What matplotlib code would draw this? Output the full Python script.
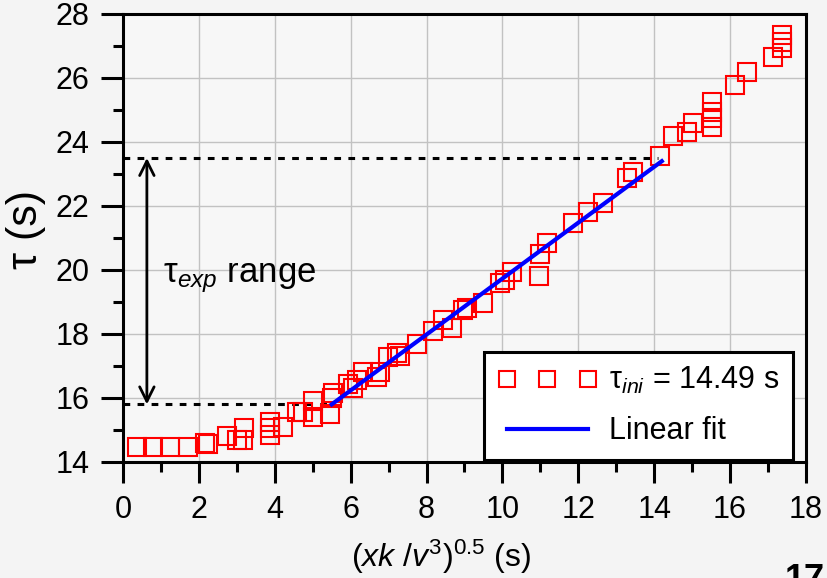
import matplotlib
matplotlib.use("Agg")
import matplotlib.pyplot as plt
from matplotlib.ticker import MultipleLocator

plt.rcParams['font.family'] = ['Liberation Sans', 'DejaVu Sans']
plt.rcParams['mathtext.fontset'] = 'custom'
plt.rcParams['mathtext.rm'] = 'Liberation Sans'
plt.rcParams['mathtext.it'] = 'Liberation Sans:italic'

x_data = [0.37, 0.79, 1.24, 1.71, 2.16, 2.24, 2.74, 3.0, 3.16, 3.2,
          3.87, 3.87, 3.87, 4.22, 4.58, 4.74, 5.0, 5.0, 5.46, 5.5,
          5.54, 5.93, 6.06, 6.17, 6.33, 6.7, 6.77, 6.98, 7.22, 7.3,
          7.75, 8.17, 8.43, 8.67, 8.96, 9.06, 9.49, 9.94, 10.07, 10.25,
          10.97, 10.99, 11.18, 11.86, 12.26, 12.65, 13.28, 13.44, 14.15, 14.5,
          14.86, 15.03, 15.52, 15.52, 15.52, 15.52, 16.13, 16.45, 17.13, 17.37,
          17.37, 17.37]
y_data = [14.47, 14.47, 14.47, 14.47, 14.6, 14.56, 14.8, 14.7, 14.7, 15.05,
          15.25, 15.05, 14.85, 15.1, 15.55, 15.55, 15.9, 15.4, 15.5, 16.0,
          16.15, 16.45, 16.3, 16.55, 16.8, 16.65, 16.8, 17.28, 17.4, 17.3,
          17.7, 18.1, 18.45, 18.2, 18.75, 18.8, 18.97, 19.6, 19.7, 19.94,
          19.82, 20.5, 20.84, 21.47, 21.8, 22.1, 22.87, 23.06, 23.55, 24.2,
          24.3, 24.6, 24.47, 24.75, 24.94, 25.25, 25.78, 26.19, 26.66, 26.94,
          27.13, 27.34]

fit_x = [5.5, 14.2]
fit_y = [15.8, 23.4]

tau_low = 15.8
tau_high = 23.5
low_end = 5.4
high_end = 14.1
arrow_x = 0.63

fig = plt.figure(figsize=(8.27, 5.78), dpi=100)
fig.patch.set_facecolor('#f4f4f4')
ax = fig.add_axes([0.1487, 0.2007, 0.8259, 0.7751])
ax.set_facecolor('#f7f7f7')

ax.plot(x_data, y_data, linestyle='none', marker='s', markersize=12.5,
        markerfacecolor='none', markeredgecolor='red', markeredgewidth=1.5,
        label='τ$_{\\mathit{ini}}$ = 14.49 s', zorder=3)
ax.plot(fit_x, fit_y, color='blue', lw=3, label='Linear fit', zorder=4)

ax.plot([0, high_end], [tau_high, tau_high], color='black', lw=2.2,
        linestyle=(0, (2.2, 2.4)), zorder=2)
ax.plot([0, low_end], [tau_low, tau_low], color='black', lw=2.2,
        linestyle=(0, (2.2, 2.4)), zorder=2)
ax.annotate('', xy=(arrow_x, tau_high), xytext=(arrow_x, tau_low),
            arrowprops=dict(arrowstyle='<->', lw=2, color='black',
                            mutation_scale=26, shrinkA=0, shrinkB=0))
ax.text(1.05, 19.75, 'τ$_{\\mathit{exp}}$ range', fontsize=25, va='center', ha='left')

ax.set_xlim(0, 18)
ax.set_ylim(14, 28)
ax.xaxis.set_major_locator(MultipleLocator(2))
ax.xaxis.set_minor_locator(MultipleLocator(1))
ax.yaxis.set_major_locator(MultipleLocator(2))
ax.yaxis.set_minor_locator(MultipleLocator(1))
ax.grid(True, which='major', color='#c2c2c2', lw=1, zorder=0)
ax.set_axisbelow(True)

for s in ax.spines.values():
    s.set_linewidth(2.2)
ax.tick_params(which='major', direction='out', length=15, width=2.2,
               labelsize=22, pad=9)
ax.tick_params(which='minor', direction='out', length=7.5, width=2.2)
ax.tick_params(axis='y', which='major', length=16, pad=8)

ax.set_xlabel('$(\\mathit{xk}\\ /\\mathit{v}^{3})^{0.5}$ (s)', fontsize=23)
ax.xaxis.set_label_coords(0.466, -0.168)
ax.set_ylabel('τ (s)', fontsize=31)
ax.yaxis.set_label_coords(-0.113, 0.52)

leg = ax.legend(loc='lower left', bbox_to_anchor=(0.5286, 0.0045),
                borderaxespad=0, numpoints=3, handlelength=3.25,
                handletextpad=0.4, fontsize=22, fancybox=False,
                framealpha=1, edgecolor='black', borderpad=0.45,
                labelspacing=0.65, markerscale=0.95)
leg.get_frame().set_linewidth(2.2)
leg.set_zorder(10)

fig.text(0.949, -0.021, '17', fontsize=26, fontweight='bold', va='baseline')

fig.savefig('out.png', dpi=100, facecolor=fig.get_facecolor())
